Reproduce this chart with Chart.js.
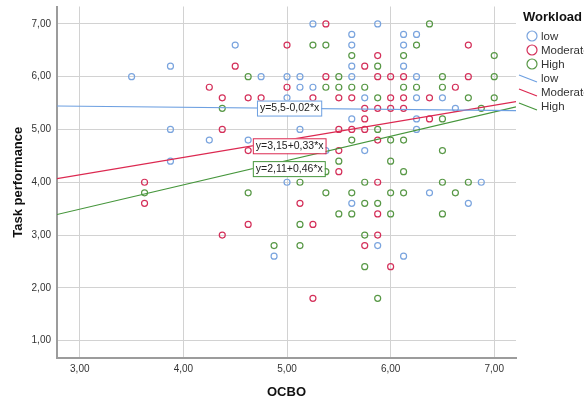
<!DOCTYPE html>
<html>
<head>
<meta charset="utf-8">
<script src="https://cdn.jsdelivr.net/npm/chart.js@4/dist/chart.umd.min.js"></script>
<style>
    body { margin: 0; background: #fff; }
    #wrap { width: 584px; height: 400px; position: relative; }
</style>
</head>
<body>
<div id="wrap"><canvas id="scatterChart"></canvas></div>
<script>
// 그룹 및 데이터
const groups = ['low', 'Moderate', 'High'];
const colors = ['rgb(122,164,222)', 'rgb(212,48,90)', 'rgb(88,152,70)'];
const lineColors = ['rgb(110,160,225)', 'rgb(220,40,80)', 'rgb(70,150,60)'];

const lowX = [3.5, 3.875, 4.5, 4.75, 5.0, 5.125, 5.125, 5.0, 3.875, 4.25, 4.625, 5.125, 3.875, 5.0, 4.875,
    5.25, 5.625, 5.625, 5.625, 5.625, 5.25, 5.875, 6.125, 6.25, 6.125, 6.125, 6.25, 6.25, 6.5, 5.75,
    6.625, 5.625, 6.25, 6.25, 5.75, 5.375, 6.875, 6.375, 5.625, 6.75, 5.875, 6.125];
const lowY = [6.0, 6.2, 6.6, 6.0, 6.0, 6.0, 5.8, 5.6, 5.0, 4.8, 4.8, 5.0, 4.4, 4.0, 2.6,
    7.0, 6.8, 6.6, 6.2, 6.0, 5.8, 7.0, 6.8, 6.8, 6.6, 6.2, 6.0, 5.6, 5.6, 5.6,
    5.4, 5.2, 5.2, 5.0, 4.6, 4.6, 4.0, 3.8, 3.6, 3.6, 2.8, 2.6];

const modX = [5.0, 4.5, 4.25, 5.0, 4.375, 4.625, 4.75, 4.375, 4.625, 3.625, 3.625, 5.125, 4.375, 4.625,
    5.375, 5.75, 5.375, 5.25, 5.5, 5.625, 6.75, 5.875, 5.875, 6.0, 6.125, 6.75, 6.625, 6.0, 6.125,
    6.375, 5.75, 5.875, 6.0, 6.125, 5.75, 6.375, 5.5, 5.625, 5.75, 5.875, 5.5, 5.5, 5.875, 5.875,
    5.25, 5.875, 5.75, 6.0, 5.25];
const modY = [6.6, 6.2, 5.8, 5.8, 5.6, 5.6, 5.6, 5.0, 4.6, 4.0, 3.6, 3.6, 3.0, 3.2,
    7.0, 6.2, 6.0, 5.6, 5.6, 5.6, 6.6, 6.4, 6.0, 6.0, 6.0, 6.0, 5.8, 5.6, 5.6,
    5.6, 5.4, 5.4, 5.4, 5.4, 5.2, 5.2, 5.0, 5.0, 5.0, 4.8, 4.6, 4.2, 4.0, 3.4,
    3.2, 3.0, 2.8, 2.4, 1.8];

const highX = [4.625, 4.375, 5.125, 3.625, 4.625, 5.125, 4.875, 5.125,
    6.375, 5.25, 5.375, 6.25, 5.625, 6.125, 7.0, 5.875, 5.5, 6.5, 7.0, 5.375, 5.5, 5.625, 5.75,
    6.125, 6.25, 6.5, 5.875, 6.75, 7.0, 6.875, 6.5, 5.875, 5.625, 6.0, 6.125, 6.5, 5.5, 6.0,
    5.375, 6.125, 5.75, 6.5, 6.75, 5.375, 5.625, 6.0, 6.125, 6.625, 5.75, 5.875, 5.5, 5.625,
    6.0, 6.5, 5.75, 5.75, 5.875];
const highY = [6.0, 5.4, 4.0, 3.8, 3.8, 3.2, 2.8, 2.8,
    7.0, 6.6, 6.6, 6.6, 6.4, 6.4, 6.4, 6.2, 6.0, 6.0, 6.0, 5.8, 5.8, 5.8, 5.8,
    5.8, 5.8, 5.8, 5.6, 5.6, 5.6, 5.4, 5.2, 5.0, 4.8, 4.8, 4.8, 4.6, 4.4, 4.4,
    4.2, 4.2, 4.0, 4.0, 4.0, 3.8, 3.8, 3.8, 3.8, 3.8, 3.6, 3.6, 3.4, 3.4,
    3.4, 3.4, 3.0, 2.4, 1.8];

// 회귀선 계수
const fitIntercepts = [5.5, 3.15, 2.11];
const fitSlopes = [-0.02, 0.33, 0.46];
const fitLabels = ['y=5,5-0,02*x', 'y=3,15+0,33*x', 'y=2,11+0,46*x'];

const xTicks = [3, 4, 5, 6, 7];
const yTicks = [1, 2, 3, 4, 5, 6, 7];
const xMin = 2.78, xMax = 7.21, yMin = 0.67, yMax = 7.33;

const fmt = v => v.toFixed(2).replace('.', ',');
const pts = (xs, ys) => xs.map((x, i) => ({ x: x, y: ys[i] }));

const scatterSets = [[lowX, lowY], [modX, modY], [highX, highY]].map((d, i) => ({
    type: 'scatter',
    label: groups[i],
    data: pts(d[0], d[1]),
    borderColor: colors[i],
    backgroundColor: 'rgba(0,0,0,0)',
    pointRadius: 3,
    pointBorderWidth: 1.2,
    order: 2
}));

const fitSets = groups.map((g, i) => ({
    type: 'line',
    label: g + ' fit',
    data: [xMin, xMax].map(x => ({ x: x, y: fitIntercepts[i] + fitSlopes[i] * x })),
    borderColor: lineColors[i],
    borderWidth: 1.2,
    pointRadius: 0,
    fill: false,
    order: 1
}));

// 회귀식 라벨
const eqLabelPlugin = {
    id: 'eqLabels',
    afterDatasetsDraw(chart) {
        const ctx = chart.ctx;
        const xs = chart.scales.x, ys = chart.scales.y;
        const anchors = [4.71, 4.67, 4.67];
        ctx.save();
        ctx.font = '10.5px Arial, "Liberation Sans", sans-serif';
        ctx.textBaseline = 'middle';
        fitLabels.forEach((t, i) => {
            const ax = anchors[i];
            const px = xs.getPixelForValue(ax);
            const py = ys.getPixelForValue(fitIntercepts[i] + fitSlopes[i] * ax);
            const w = ctx.measureText(t).width + 5;
            const h = 15;
            ctx.fillStyle = '#fff';
            ctx.fillRect(px, py - h / 2, w, h);
            ctx.strokeStyle = lineColors[i];
            ctx.lineWidth = 1;
            ctx.strokeRect(px + 0.5, py - h / 2 + 0.5, w, h);
            ctx.fillStyle = '#222';
            ctx.fillText(t, px + 3, py + 0.5);
        });
        ctx.restore();
    }
};

// 범례
const legendPlugin = {
    id: 'sideLegend',
    afterDraw(chart) {
        const ctx = chart.ctx;
        ctx.save();
        ctx.fillStyle = '#111';
        ctx.font = 'bold 13px Arial, "Liberation Sans", sans-serif';
        ctx.textBaseline = 'middle';
        ctx.fillText('Workload', 523, 17);
        ctx.font = '11.5px Arial, "Liberation Sans", sans-serif';
        groups.forEach((g, i) => {
            const y = 36 + i * 14;
            ctx.beginPath();
            ctx.arc(532, y, 5, 0, Math.PI * 2);
            ctx.strokeStyle = colors[i];
            ctx.lineWidth = 1.2;
            ctx.stroke();
            ctx.fillStyle = '#333';
            ctx.fillText(g, 541, y + 1);
        });
        groups.forEach((g, i) => {
            const y = 79 + i * 14;
            ctx.beginPath();
            ctx.moveTo(519, y - 4);
            ctx.lineTo(537, y + 3);
            ctx.strokeStyle = lineColors[i];
            ctx.lineWidth = 1.2;
            ctx.stroke();
            ctx.fillStyle = '#333';
            ctx.fillText(g, 541, y);
        });
        ctx.restore();
    }
};

const bgPlugin = {
    id: 'bg',
    beforeDraw(chart) {
        const ctx = chart.ctx;
        ctx.save();
        ctx.fillStyle = '#fff';
        ctx.fillRect(0, 0, chart.width, chart.height);
        ctx.restore();
    }
};

new Chart(document.getElementById('scatterChart'), {
    type: 'scatter',
    data: { datasets: scatterSets.concat(fitSets) },
    plugins: [bgPlugin, eqLabelPlugin, legendPlugin],
    options: {
        responsive: true,
        maintainAspectRatio: false,
        animation: false,
        layout: { padding: { left: 0, right: 68, top: 6.5, bottom: 0 } },
        plugins: {
            legend: { display: false },
            tooltip: { enabled: false }
        },
        scales: {
            x: {
                type: 'linear',
                min: xMin,
                max: xMax,
                afterBuildTicks: s => { s.ticks = xTicks.map(v => ({ value: v })); },
                afterFit: s => { s.height = 42; s.paddingLeft = 0; s.paddingRight = 0; },
                grid: { color: '#d2d2d2', lineWidth: 1, drawTicks: false },
                border: { color: '#9c9c9c', width: 2 },
                ticks: {
                    padding: 5,
                    color: '#333',
                    font: { family: 'Arial, "Liberation Sans", sans-serif', size: 10 },
                    callback: v => fmt(v)
                },
                title: {
                    display: true,
                    text: 'OCBO',
                    color: '#111',
                    font: { family: 'Arial, "Liberation Sans", sans-serif', size: 13, weight: 'bold' },
                    padding: { top: 8, bottom: 0 }
                }
            },
            y: {
                type: 'linear',
                min: yMin,
                max: yMax,
                afterBuildTicks: s => { s.ticks = yTicks.map(v => ({ value: v })); },
                afterFit: s => { s.width = 57; s.paddingTop = 0; s.paddingBottom = 0; },
                grid: { color: '#d2d2d2', lineWidth: 1, drawTicks: false },
                border: { color: '#9c9c9c', width: 2 },
                ticks: {
                    padding: 6,
                    color: '#333',
                    font: { family: 'Arial, "Liberation Sans", sans-serif', size: 10 },
                    callback: v => fmt(v)
                },
                title: {
                    display: true,
                    text: 'Task performance',
                    color: '#111',
                    font: { family: 'Arial, "Liberation Sans", sans-serif', size: 13, weight: 'bold' },
                    padding: { top: 11, bottom: 0 }
                }
            }
        }
    }
});
</script>
</body>
</html>
